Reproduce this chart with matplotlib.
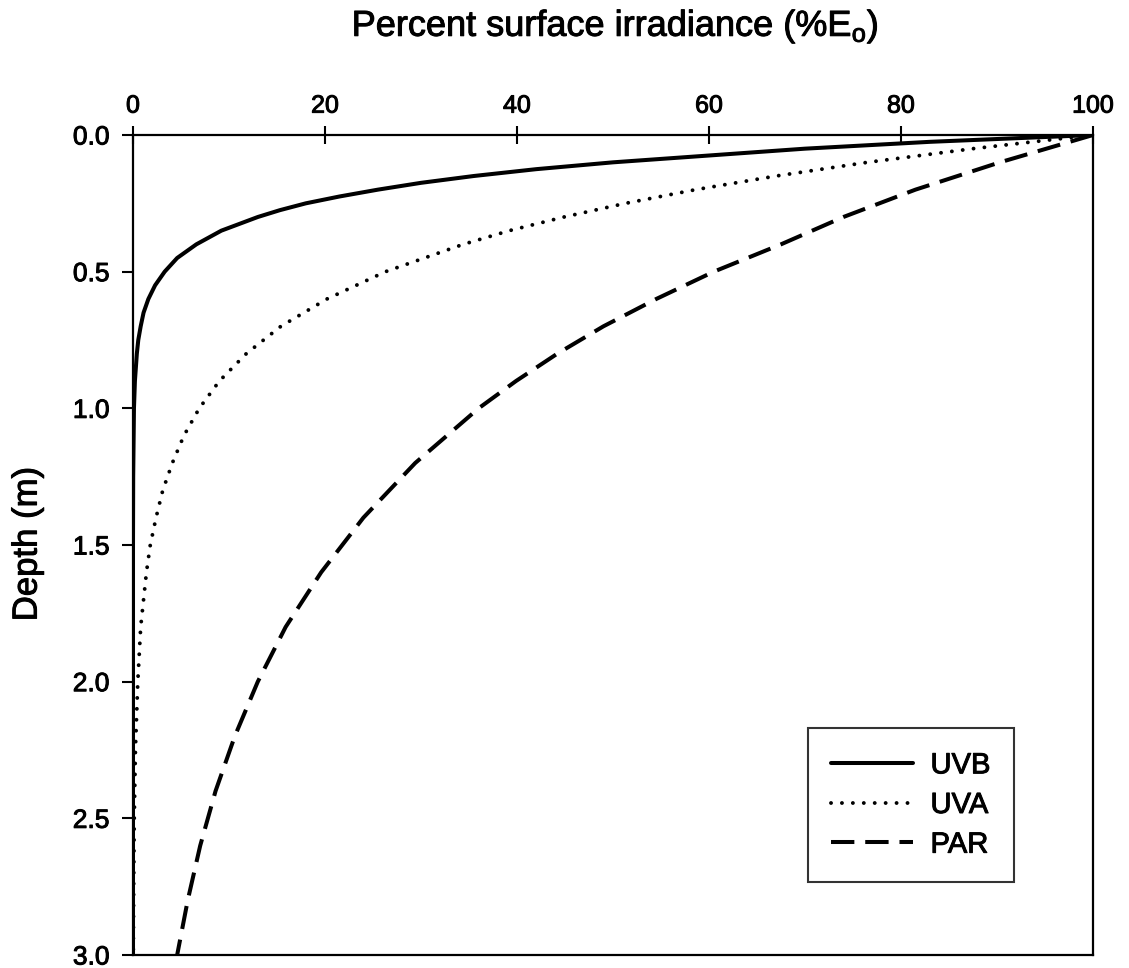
import matplotlib
matplotlib.use("Agg")
import matplotlib.pyplot as plt
import matplotlib.patheffects as pe

plt.rcParams['font.family'] = ['Liberation Sans', 'DejaVu Sans']
plt.rcParams['mathtext.fontset'] = 'custom'
plt.rcParams['mathtext.rm'] = 'Liberation Sans'

# Irradiance profiles read at depth (m), as percent of surface value
depth_uvb = [0.0, 0.025, 0.05, 0.075, 0.1, 0.125, 0.15, 0.175, 0.2, 0.225,
             0.25, 0.275, 0.3, 0.35, 0.4, 0.45, 0.5, 0.55, 0.6, 0.65, 0.7,
             0.75, 0.8, 0.9, 1.0, 1.25, 1.5, 2.0, 2.5, 3.0]
uvb = [100, 83, 70, 60, 50, 42, 35.5, 30, 25.5, 21.5,
       18, 15.3, 13, 9.2, 6.6, 4.6, 3.3, 2.3, 1.6, 1.1, 0.8,
       0.55, 0.4, 0.2, 0.1, 0.02, 0.0, 0.0, 0.0, 0.0]

depth_uva = [0.0, 0.05, 0.1, 0.15, 0.2, 0.25, 0.3, 0.35, 0.4, 0.5, 0.6, 0.7,
             0.8, 0.9, 1.0, 1.1, 1.2, 1.3, 1.4, 1.5, 1.6, 1.8, 2.0, 2.25,
             2.5, 2.75, 3.0]
uva = [100, 87.5, 76.5, 67, 58.6, 51.3, 44.9, 39.2, 34.4, 26.3, 20.2, 15.4,
       11.8, 9.0, 6.9, 5.3, 4.1, 3.1, 2.4, 1.8, 1.4, 0.8, 0.5, 0.25,
       0.13, 0.07, 0.03]

depth_par = [0.0, 0.1, 0.2, 0.3, 0.4, 0.5, 0.6, 0.7, 0.8, 0.9, 1.0, 1.2,
             1.4, 1.6, 1.8, 2.0, 2.2, 2.4, 2.6, 2.8, 3.0]
par = [100, 90.3, 81.5, 74, 67.5, 60.5, 54.5, 49, 44.2, 39.9, 36, 29.4,
       24, 19.6, 15.9, 13, 10.6, 8.6, 7.0, 5.7, 4.6]

x_ticks = [0, 20, 40, 60, 80, 100]
y_ticks = [0.0, 0.5, 1.0, 1.5, 2.0, 2.5, 3.0]

# slightly heavier glyphs, like the printed figure
heavy = [pe.withStroke(linewidth=0.7, foreground='black')]

fig = plt.figure(figsize=(11.29, 9.68), dpi=100)
ax = fig.add_axes([133 / 1129, 1 - 955 / 968, 960 / 1129, 820 / 968])

ax.plot(uvb, depth_uvb, color='black', lw=2.9, solid_capstyle='round',
        solid_joinstyle='round', label='UVB')
ax.plot(uva, depth_uva, color='black', lw=2.8, dashes=(0.01, 2.8),
        dash_capstyle='round', label='UVA')
ax.plot(par, depth_par, color='black', lw=2.9, dashes=(5.8, 2.7),
        label='PAR')

ax.set_xlim(0, 100)
ax.set_ylim(3.0, 0.0)
ax.xaxis.tick_top()
ax.set_xticks(x_ticks)
ax.set_yticks(y_ticks)
ax.set_yticklabels([f'{v:.1f}' for v in y_ticks])

for s in ax.spines.values():
    s.set_linewidth(1.6)
    s.set_color('black')

ax.tick_params(axis='x', direction='inout', length=13, width=1.5, pad=6,
               labelsize=18, colors='black')
ax.tick_params(axis='y', direction='out', length=8, width=1.5, pad=9,
               labelsize=19, colors='black')
for lbl in ax.get_xticklabels() + ax.get_yticklabels():
    lbl.set_path_effects(heavy)

fig.text(0.545, 1 - 36 / 968, 'Percent surface irradiance (%E$_{\\rm o}$)',
         ha='center', va='baseline', fontsize=26, path_effects=heavy)
fig.text(0.024, 1 - 544 / 968, 'Depth (m)', rotation=90,
         ha='center', va='center', fontsize=25, path_effects=heavy)

leg = ax.legend(loc='upper left', bbox_to_anchor=(808 / 1129, 1 - 728 / 968),
                bbox_transform=fig.transFigure, frameon=True, fancybox=False,
                edgecolor='black', fontsize=21, handlelength=2.8,
                handletextpad=0.6, labelspacing=0.4, borderpad=0.8,
                borderaxespad=0.0)
leg.get_frame().set_linewidth(1.5)
for t in leg.get_texts():
    t.set_path_effects(heavy)

fig.savefig('out.png', dpi=100, facecolor='white')
